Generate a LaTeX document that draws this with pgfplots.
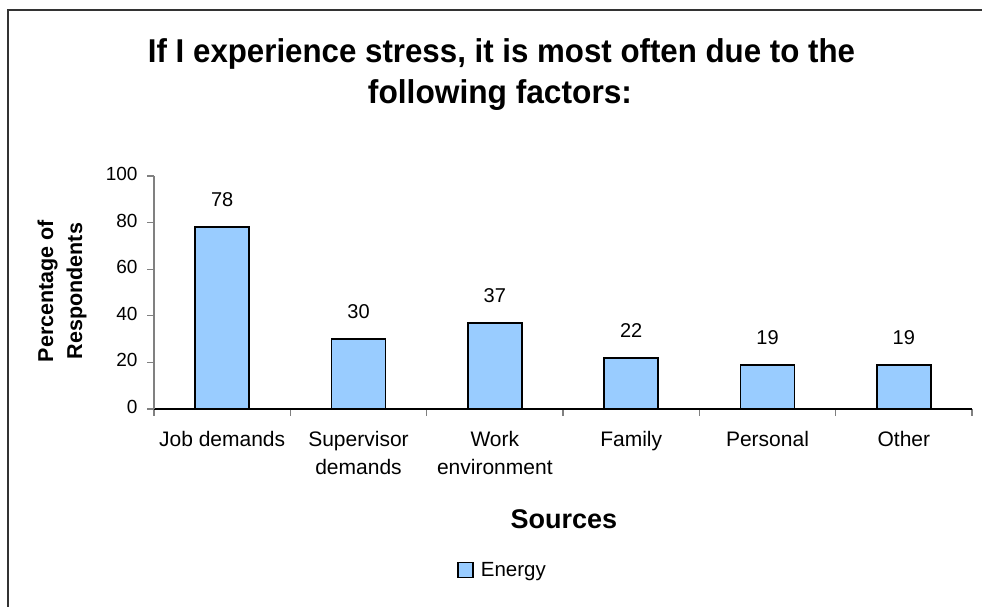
\documentclass[border=0pt]{standalone}
\usepackage{pgfplots}
\pgfplotsset{compat=1.18}
\usepackage{fontspec}
\setmainfont{Liberation Sans}
\definecolor{barblue}{HTML}{99CCFF}
\definecolor{axgray}{HTML}{808080}
\begin{document}
\begin{tikzpicture}[x=1pt,y=1pt]
\useasboundingbox (0,0) rectangle (982,607);
\draw[line width=1.5pt, black!80] (8,-2) -- (8,597) -- (984,597);
\node[anchor=base, inner sep=0pt, font=\fontsize{33}{40}\selectfont\bfseries] at (501.5,544) {\resizebox{707pt}{\height}{If I experience stress, it is most often due to the}};
\node[anchor=base, inner sep=0pt, font=\fontsize{33}{40}\selectfont\bfseries] at (500,503) {\resizebox{264pt}{\height}{following factors:}};
\begin{axis}[
  at={(154pt,198pt)}, anchor=south west,
  scale only axis, width=818pt, height=233pt,
  xmin=-0.5, xmax=5.5, ymin=0, ymax=100,
  clip=false,
  ybar, bar width=54pt,
  axis x line*=bottom, axis y line*=left,
  axis line style={-},
  x axis line style={black, line width=1.3pt},
  y axis line style={axgray, line width=1.3pt},
  ytick={0,20,...,100},
  xtick={0,...,5},
  xticklabels={Job demands, Supervisor\\demands, Work\\environment, Family, Personal, Other},
  major x tick style={draw=none},
  minor xtick={-0.5,0.5,...,5.5},
  minor x tick style={axgray, line width=1.3pt},
  minor tick length=7pt,
  major tick length=7pt,
  y tick style={axgray, line width=1.3pt},
  tick align=outside,
  /pgf/number format/assume math mode=true,
  xticklabel style={align=center, font=\fontsize{21}{28}\selectfont, yshift=-12pt},
  yticklabel style={font=\fontsize{19}{22}\selectfont, xshift=-6pt, yshift=2pt},
  xlabel={Sources},
  xlabel style={at={(axis description cs:0.501,-0.515)}, anchor=base, font=\fontsize{27}{32}\selectfont\bfseries},
  ylabel={Percentage of\\Respondents},
  ylabel style={at={(axis description cs:-0.1125,0.506)}, anchor=center, align=center, font=\fontsize{21.5}{29}\selectfont\bfseries},
  legend style={at={(axis description cs:0.3704,-0.691)}, anchor=west, draw=none, fill=none, font=\fontsize{20.5}{24}\selectfont, inner sep=0pt},
  legend image code/.code={\draw[fill=barblue, draw=black, line width=1.5pt] (0pt,-7.5pt) rectangle (15pt,7.5pt); \path (20pt,0pt);},
  nodes near coords,
  every node near coord/.append style={font=\fontsize{20}{22}\selectfont, anchor=base, yshift=20.5pt, black},
]
\addplot[fill=barblue, draw=black, line width=1.9pt] coordinates {(0,78) (1,30) (2,37) (3,22) (4,19) (5,19)};
\addlegendentry{Energy}
\end{axis}
\end{tikzpicture}
\end{document}
